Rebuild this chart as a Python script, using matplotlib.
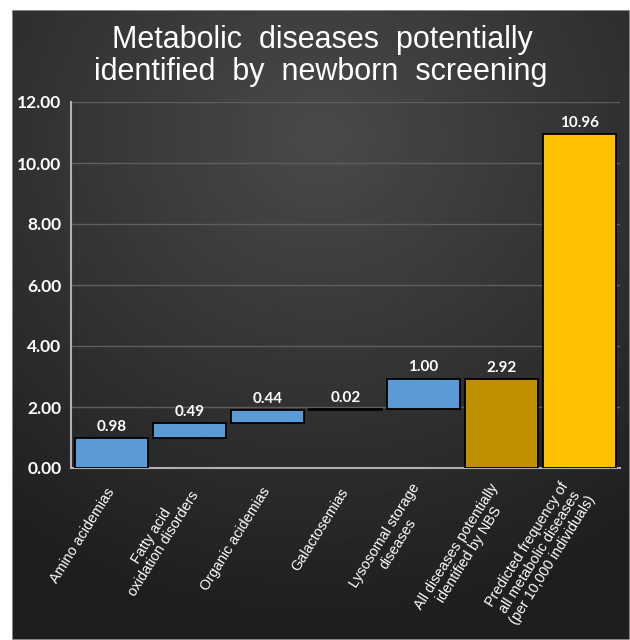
import numpy as np
import matplotlib.pyplot as plt

categories = ["Amino acidemias",
              "Fatty acid\noxidation disorders",
              "Organic acidemias",
              "Galactosemias",
              "Lysosomal storage\ndiseases",
              "All diseases potentially\nidentified by NBS",
              "Predicted frequency of\nall metabolic diseases\n(per 10,000 individuals)"]
values = [0.98, 0.49, 0.44, 0.02, 1.00, 2.92, 10.96]
is_total = [False, False, False, False, False, True, True]
colors = ['#5B9BD5', '#5B9BD5', '#5B9BD5', '#5B9BD5', '#5B9BD5', '#BF8F00', '#FFC000']
yticks = [0, 2, 4, 6, 8, 10, 12]

# waterfall bases
bases = []
run = 0.0
for v, t in zip(values, is_total):
    if t:
        bases.append(0.0)
    else:
        bases.append(run)
        run += v

W, H = 630, 640
fig = plt.figure(figsize=(W / 100, H / 100), dpi=100, facecolor='white')

# dark radial background panel
bg = fig.add_axes([12 / W, 0, 1 - 12 / W, 1 - 10 / H])
yy, xx = np.mgrid[0:1:300j, 0:1:300j]
r = np.sqrt((xx - 0.5) ** 2 + ((yy - 0.2) * 1.1) ** 2)
shade = np.clip(0.29 - 0.2 * r, 0.12, 0.3)
bg.imshow(shade, cmap='gray', vmin=0, vmax=1, aspect='auto', extent=[0, 1, 1, 0])
bg.set_xlim(0, 1)
bg.set_ylim(1, 0)
bg.axis('off')
bg.add_patch(plt.Rectangle((0, 0), 1, 1, fill=False, ec='#9a9a9a', lw=1.2, transform=bg.transAxes))

fig.text(322 / W, 1 - 40 / H, "Metabolic  diseases  potentially", color='white',
         fontsize=22, family='Liberation Sans', ha='center', va='center')
fig.text(321 / W, 1 - 72 / H, "identified  by  newborn  screening", color='white',
         fontsize=22, family='Liberation Sans', ha='center', va='center')

ax = fig.add_axes([71 / W, 1 - 468 / H, (620 - 71) / W, (468 - 102) / H])
ax.patch.set_alpha(0)
x = np.arange(len(values))
ax.bar(x, values, bottom=bases, width=0.94, color=colors, edgecolor='black', linewidth=1.3, zorder=3)
for xi, v, b in zip(x, values, bases):
    ax.annotate(f"{v:.2f}", (xi, b + v), xytext=(0, 3), textcoords='offset points',
                ha='center', va='bottom', color='white', fontsize=11,
                family='Lato', fontweight='bold')

ax.set_xlim(-0.52, len(values) - 0.48)
ax.set_ylim(0, 12)
ax.set_yticks(yticks)
ax.set_yticklabels([f"{t:.2f}" for t in yticks])
ax.yaxis.grid(True, color='#5e5e5e', lw=1.0, zorder=0)
for s in ['top', 'right']:
    ax.spines[s].set_visible(False)
for s in ['left', 'bottom']:
    ax.spines[s].set_color('#b0b0b0')
    ax.spines[s].set_linewidth(1.5)
ax.tick_params(axis='y', length=0, pad=7, colors='white', labelsize=12.5)
for lab in ax.get_yticklabels():
    lab.set_family('Lato')
    lab.set_fontweight('bold')
ax.tick_params(axis='x', length=0, pad=15)
ax.set_xticks(x)
ax.set_xticklabels(categories, rotation=58, ha='right', va='center', rotation_mode='anchor',
                   color='white', fontsize=10.3, family='Liberation Sans', multialignment='center',
                   linespacing=1.1)

fig.savefig('out.png', dpi=100, facecolor='white')
